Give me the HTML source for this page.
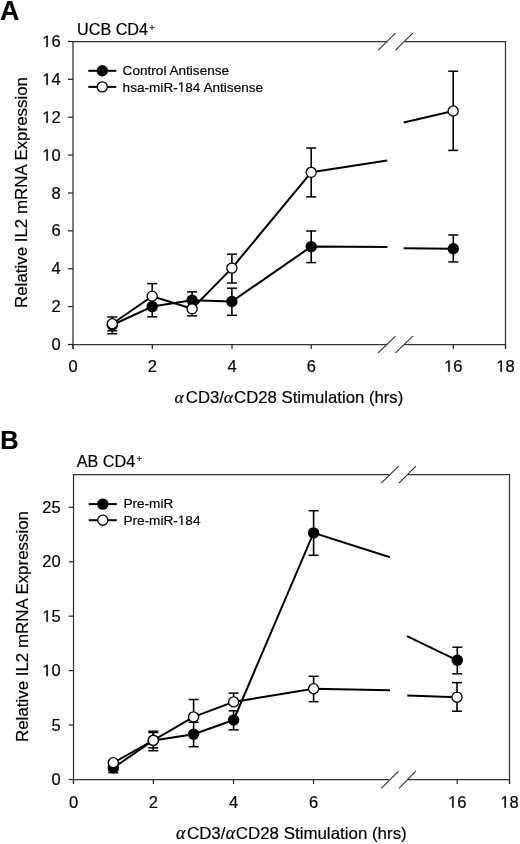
<!DOCTYPE html><html><head><meta charset="utf-8"><style>html,body{margin:0;padding:0;background:#fff}svg{display:block;will-change:transform}text{font-family:"Liberation Sans",sans-serif;fill:#000;stroke:#000;stroke-width:0.18px}.one{fill:transparent;stroke:none}</style></head><body>
<svg width="520" height="844" viewBox="0 0 520 844">
<rect width="520" height="844" fill="#fff"/>
<text x="0.1" y="19.7" font-size="26.8" text-anchor="start" font-weight="bold">A</text>
<text x="0.2" y="448.7" font-size="25.5" text-anchor="start" font-weight="bold">B</text>
<text x="77" y="35.3" font-size="16.2" text-anchor="start" >UCB CD4<tspan font-size="9.5" dx="1.3" dy="-4.3">+</tspan></text>
<text x="76.7" y="466.6" font-size="16.2" text-anchor="start" >AB CD4<tspan font-size="9.5" dx="1.3" dy="-4.3">+</tspan></text>
<text x="0" y="0" font-size="16.9" text-anchor="middle" transform="translate(27.4,192.5) rotate(-90)">Relative IL2 mRNA Expression</text>
<text x="0" y="0" font-size="16.9" text-anchor="middle" transform="translate(27.8,626.5) rotate(-90)">Relative IL2 mRNA Expression</text>
<text y="403.1" font-size="16.74"><tspan x="174.38" font-family="Liberation Serif" font-style="italic" font-size="17.6">α</tspan><tspan x="185.85">CD3/</tspan><tspan x="223.78" font-family="Liberation Serif" font-style="italic" font-size="17.6">α</tspan><tspan x="234.05">CD28 Stimulation (hrs)</tspan></text>
<text y="838.6" font-size="16.92"><tspan x="175.97" font-family="Liberation Serif" font-style="italic" font-size="17.9">α</tspan><tspan x="186.94">CD3/</tspan><tspan x="225.67" font-family="Liberation Serif" font-style="italic" font-size="17.9">α</tspan><tspan x="235.74">CD28 Stimulation (hrs)</tspan></text>
<line x1="73" y1="40.9" x2="73" y2="349.0" stroke="#444" stroke-width="1.4"/>
<line x1="72.4" y1="344.5" x2="386.5" y2="344.5" stroke="#333" stroke-width="1.25"/>
<line x1="404.5" y1="344.5" x2="506.1" y2="344.5" stroke="#333" stroke-width="1.25"/>
<line x1="72.4" y1="41.5" x2="386.5" y2="41.5" stroke="#333" stroke-width="1.25"/>
<line x1="404.5" y1="41.5" x2="506.1" y2="41.5" stroke="#333" stroke-width="1.25"/>
<line x1="505.5" y1="40.9" x2="505.5" y2="349.0" stroke="#333" stroke-width="1.2"/>
<line x1="378.2" y1="352.9" x2="395.5" y2="336.1" stroke="#333" stroke-width="1.15"/>
<line x1="395.5" y1="352.9" x2="412.8" y2="336.1" stroke="#333" stroke-width="1.15"/>
<line x1="378.2" y1="50.2" x2="395.5" y2="33.2" stroke="#333" stroke-width="1.15"/>
<line x1="395.5" y1="50.2" x2="412.8" y2="33.2" stroke="#333" stroke-width="1.15"/>
<line x1="68" y1="344.5" x2="73" y2="344.5" stroke="#222" stroke-width="1.2"/>
<text x="60.6" y="350.1" font-size="16.5" text-anchor="end" >0</text>
<line x1="68" y1="306.62" x2="73" y2="306.62" stroke="#222" stroke-width="1.2"/>
<text x="60.6" y="312.22" font-size="16.5" text-anchor="end" >2</text>
<line x1="68" y1="268.74" x2="73" y2="268.74" stroke="#222" stroke-width="1.2"/>
<text x="60.6" y="274.34000000000003" font-size="16.5" text-anchor="end" >4</text>
<line x1="68" y1="230.85999999999999" x2="73" y2="230.85999999999999" stroke="#222" stroke-width="1.2"/>
<text x="60.6" y="236.45999999999998" font-size="16.5" text-anchor="end" >6</text>
<line x1="68" y1="192.98" x2="73" y2="192.98" stroke="#222" stroke-width="1.2"/>
<text x="60.6" y="198.57999999999998" font-size="16.5" text-anchor="end" >8</text>
<line x1="68" y1="155.1" x2="73" y2="155.1" stroke="#222" stroke-width="1.2"/>
<text id="o0" x="60.6" y="160.7" font-size="16.5" text-anchor="end" ><tspan class="one">1</tspan>0</text>
<line x1="68" y1="117.21999999999997" x2="73" y2="117.21999999999997" stroke="#222" stroke-width="1.2"/>
<text id="o1" x="60.6" y="122.81999999999996" font-size="16.5" text-anchor="end" ><tspan class="one">1</tspan>2</text>
<line x1="68" y1="79.33999999999997" x2="73" y2="79.33999999999997" stroke="#222" stroke-width="1.2"/>
<text id="o2" x="60.6" y="84.93999999999997" font-size="16.5" text-anchor="end" ><tspan class="one">1</tspan>4</text>
<line x1="68" y1="41.45999999999998" x2="73" y2="41.45999999999998" stroke="#222" stroke-width="1.2"/>
<text id="o3" x="60.6" y="47.05999999999998" font-size="16.5" text-anchor="end" ><tspan class="one">1</tspan>6</text>
<line x1="73" y1="344.5" x2="73" y2="349.0" stroke="#222" stroke-width="1.2"/>
<text x="73" y="371.8" font-size="16.5" text-anchor="middle" >0</text>
<line x1="152.3" y1="344.5" x2="152.3" y2="349.0" stroke="#222" stroke-width="1.2"/>
<text x="152.3" y="371.8" font-size="16.5" text-anchor="middle" >2</text>
<line x1="232" y1="344.5" x2="232" y2="349.0" stroke="#222" stroke-width="1.2"/>
<text x="232" y="371.8" font-size="16.5" text-anchor="middle" >4</text>
<line x1="311.3" y1="344.5" x2="311.3" y2="349.0" stroke="#222" stroke-width="1.2"/>
<text x="311.3" y="371.8" font-size="16.5" text-anchor="middle" >6</text>
<line x1="453.3" y1="344.5" x2="453.3" y2="349.0" stroke="#222" stroke-width="1.2"/>
<text id="o4" x="453.3" y="371.8" font-size="16.5" text-anchor="middle" ><tspan class="one">1</tspan>6</text>
<line x1="505.5" y1="344.5" x2="505.5" y2="349.0" stroke="#222" stroke-width="1.2"/>
<text id="o5" x="505.5" y="371.8" font-size="16.5" text-anchor="middle" ><tspan class="one">1</tspan>8</text>
<polyline points="112.3,325.0 152.2,306.6 192.1,300.2 231.9,301.5 311.2,246.6 387.3,246.9" fill="none" stroke="#000" stroke-width="2.0" stroke-linejoin="round"/>
<polyline points="403.7,248.3 453.3,248.8" fill="none" stroke="#000" stroke-width="2.0" stroke-linejoin="round"/>
<polyline points="112.3,323.75 152.2,296.2 192.1,308.8 231.9,268.1 311.2,172.3 387.3,160.6" fill="none" stroke="#000" stroke-width="2.0" stroke-linejoin="round"/>
<polyline points="403.7,122.5 453.2,111" fill="none" stroke="#000" stroke-width="2.0" stroke-linejoin="round"/>
<line x1="112.3" y1="325.0" x2="112.3" y2="333.75" stroke="#000" stroke-width="1.6"/>
<line x1="107.3" y1="333.75" x2="117.3" y2="333.75" stroke="#000" stroke-width="1.5"/>
<line x1="152.2" y1="306.6" x2="152.2" y2="316.8" stroke="#000" stroke-width="1.6"/>
<line x1="147.2" y1="316.8" x2="157.2" y2="316.8" stroke="#000" stroke-width="1.5"/>
<line x1="192.1" y1="300.2" x2="192.1" y2="291.9" stroke="#000" stroke-width="1.6"/>
<line x1="187.1" y1="291.9" x2="197.1" y2="291.9" stroke="#000" stroke-width="1.5"/>
<line x1="231.9" y1="301.5" x2="231.9" y2="288.2" stroke="#000" stroke-width="1.6"/>
<line x1="231.9" y1="301.5" x2="231.9" y2="315.3" stroke="#000" stroke-width="1.6"/>
<line x1="226.9" y1="288.2" x2="236.9" y2="288.2" stroke="#000" stroke-width="1.5"/>
<line x1="226.9" y1="315.3" x2="236.9" y2="315.3" stroke="#000" stroke-width="1.5"/>
<line x1="311.2" y1="246.6" x2="311.2" y2="231" stroke="#000" stroke-width="1.6"/>
<line x1="311.2" y1="246.6" x2="311.2" y2="262.6" stroke="#000" stroke-width="1.6"/>
<line x1="306.2" y1="231" x2="316.2" y2="231" stroke="#000" stroke-width="1.5"/>
<line x1="306.2" y1="262.6" x2="316.2" y2="262.6" stroke="#000" stroke-width="1.5"/>
<line x1="453.3" y1="248.8" x2="453.3" y2="235" stroke="#000" stroke-width="1.6"/>
<line x1="453.3" y1="248.8" x2="453.3" y2="261.9" stroke="#000" stroke-width="1.6"/>
<line x1="448.3" y1="235" x2="458.3" y2="235" stroke="#000" stroke-width="1.5"/>
<line x1="448.3" y1="261.9" x2="458.3" y2="261.9" stroke="#000" stroke-width="1.5"/>
<circle cx="112.3" cy="325.0" r="5.7" fill="#000"/>
<circle cx="152.2" cy="306.6" r="5.7" fill="#000"/>
<circle cx="192.1" cy="300.2" r="5.7" fill="#000"/>
<circle cx="231.9" cy="301.5" r="5.7" fill="#000"/>
<circle cx="311.2" cy="246.6" r="5.7" fill="#000"/>
<circle cx="453.3" cy="248.8" r="5.7" fill="#000"/>
<line x1="112.3" y1="323.75" x2="112.3" y2="317" stroke="#000" stroke-width="1.6"/>
<line x1="112.3" y1="323.75" x2="112.3" y2="330.75" stroke="#000" stroke-width="1.6"/>
<line x1="107.3" y1="317" x2="117.3" y2="317" stroke="#000" stroke-width="1.5"/>
<line x1="107.3" y1="330.75" x2="117.3" y2="330.75" stroke="#000" stroke-width="1.5"/>
<line x1="152.2" y1="296.2" x2="152.2" y2="283.6" stroke="#000" stroke-width="1.6"/>
<line x1="147.2" y1="283.6" x2="157.2" y2="283.6" stroke="#000" stroke-width="1.5"/>
<line x1="192.1" y1="308.8" x2="192.1" y2="315.9" stroke="#000" stroke-width="1.6"/>
<line x1="187.1" y1="315.9" x2="197.1" y2="315.9" stroke="#000" stroke-width="1.5"/>
<line x1="231.9" y1="268.1" x2="231.9" y2="254.2" stroke="#000" stroke-width="1.6"/>
<line x1="231.9" y1="268.1" x2="231.9" y2="283" stroke="#000" stroke-width="1.6"/>
<line x1="226.9" y1="254.2" x2="236.9" y2="254.2" stroke="#000" stroke-width="1.5"/>
<line x1="226.9" y1="283" x2="236.9" y2="283" stroke="#000" stroke-width="1.5"/>
<line x1="311.2" y1="172.3" x2="311.2" y2="148" stroke="#000" stroke-width="1.6"/>
<line x1="311.2" y1="172.3" x2="311.2" y2="196.9" stroke="#000" stroke-width="1.6"/>
<line x1="306.2" y1="148" x2="316.2" y2="148" stroke="#000" stroke-width="1.5"/>
<line x1="306.2" y1="196.9" x2="316.2" y2="196.9" stroke="#000" stroke-width="1.5"/>
<line x1="453.2" y1="111" x2="453.2" y2="71.2" stroke="#000" stroke-width="1.6"/>
<line x1="453.2" y1="111" x2="453.2" y2="150.4" stroke="#000" stroke-width="1.6"/>
<line x1="448.2" y1="71.2" x2="458.2" y2="71.2" stroke="#000" stroke-width="1.5"/>
<line x1="448.2" y1="150.4" x2="458.2" y2="150.4" stroke="#000" stroke-width="1.5"/>
<circle cx="112.3" cy="323.75" r="5.05" fill="#fff" stroke="#000" stroke-width="1.3"/>
<circle cx="152.2" cy="296.2" r="5.05" fill="#fff" stroke="#000" stroke-width="1.3"/>
<circle cx="192.1" cy="308.8" r="5.05" fill="#fff" stroke="#000" stroke-width="1.3"/>
<circle cx="231.9" cy="268.1" r="5.05" fill="#fff" stroke="#000" stroke-width="1.3"/>
<circle cx="311.2" cy="172.3" r="5.05" fill="#fff" stroke="#000" stroke-width="1.3"/>
<circle cx="453.2" cy="111" r="5.05" fill="#fff" stroke="#000" stroke-width="1.3"/>
<line x1="88.3" y1="70.8" x2="116.3" y2="70.8" stroke="#000" stroke-width="2.0"/>
<circle cx="102.3" cy="70.8" r="5.7" fill="#000"/>
<text x="122.6" y="74.8" font-size="13.6" text-anchor="start" >Control Antisense</text>
<line x1="88.3" y1="86.9" x2="116.3" y2="86.9" stroke="#000" stroke-width="2.0"/>
<circle cx="102.3" cy="86.9" r="5.05" fill="#fff" stroke="#000" stroke-width="1.3"/>
<text id="o6" x="122.6" y="91.7" font-size="13.6" text-anchor="start" >hsa-miR-<tspan class="one">1</tspan>84 Antisense</text>
<line x1="73.5" y1="473.9" x2="73.5" y2="784.0" stroke="#2a2a2a" stroke-width="1.15"/>
<line x1="72.9" y1="779.5" x2="389" y2="779.5" stroke="#333" stroke-width="1.25"/>
<line x1="408" y1="779.5" x2="510.1" y2="779.5" stroke="#333" stroke-width="1.25"/>
<line x1="72.9" y1="474.5" x2="389" y2="474.5" stroke="#333" stroke-width="1.25"/>
<line x1="408" y1="474.5" x2="510.1" y2="474.5" stroke="#333" stroke-width="1.25"/>
<line x1="509.5" y1="473.9" x2="509.5" y2="784.0" stroke="#333" stroke-width="1.2"/>
<line x1="381.25" y1="788.4" x2="398.6" y2="771.1" stroke="#333" stroke-width="1.15"/>
<line x1="399" y1="788.4" x2="415.9" y2="771.1" stroke="#333" stroke-width="1.15"/>
<line x1="381.25" y1="483.1" x2="398.6" y2="466.1" stroke="#333" stroke-width="1.15"/>
<line x1="399" y1="483.1" x2="415.9" y2="466.1" stroke="#333" stroke-width="1.15"/>
<line x1="68.7" y1="779.5" x2="73.5" y2="779.5" stroke="#222" stroke-width="1.2"/>
<text x="60.6" y="785.1" font-size="16.5" text-anchor="end" >0</text>
<line x1="68.7" y1="725.05" x2="73.5" y2="725.05" stroke="#222" stroke-width="1.2"/>
<text x="60.6" y="730.65" font-size="16.5" text-anchor="end" >5</text>
<line x1="68.7" y1="670.6" x2="73.5" y2="670.6" stroke="#222" stroke-width="1.2"/>
<text id="o7" x="60.6" y="676.2" font-size="16.5" text-anchor="end" ><tspan class="one">1</tspan>0</text>
<line x1="68.7" y1="616.15" x2="73.5" y2="616.15" stroke="#222" stroke-width="1.2"/>
<text id="o8" x="60.6" y="621.75" font-size="16.5" text-anchor="end" ><tspan class="one">1</tspan>5</text>
<line x1="68.7" y1="561.7" x2="73.5" y2="561.7" stroke="#222" stroke-width="1.2"/>
<text x="60.6" y="567.3000000000001" font-size="16.5" text-anchor="end" >20</text>
<line x1="68.7" y1="507.25" x2="73.5" y2="507.25" stroke="#222" stroke-width="1.2"/>
<text x="60.6" y="512.85" font-size="16.5" text-anchor="end" >25</text>
<line x1="73.5" y1="779.5" x2="73.5" y2="784.0" stroke="#222" stroke-width="1.2"/>
<text x="73.5" y="807.7" font-size="16.5" text-anchor="middle" >0</text>
<line x1="153.4" y1="779.5" x2="153.4" y2="784.0" stroke="#222" stroke-width="1.2"/>
<text x="153.4" y="807.7" font-size="16.5" text-anchor="middle" >2</text>
<line x1="233.5" y1="779.5" x2="233.5" y2="784.0" stroke="#222" stroke-width="1.2"/>
<text x="233.5" y="807.7" font-size="16.5" text-anchor="middle" >4</text>
<line x1="313.5" y1="779.5" x2="313.5" y2="784.0" stroke="#222" stroke-width="1.2"/>
<text x="313.5" y="807.7" font-size="16.5" text-anchor="middle" >6</text>
<line x1="457.2" y1="779.5" x2="457.2" y2="784.0" stroke="#222" stroke-width="1.2"/>
<text id="o9" x="457.2" y="807.7" font-size="16.5" text-anchor="middle" ><tspan class="one">1</tspan>6</text>
<line x1="509.5" y1="779.5" x2="509.5" y2="784.0" stroke="#222" stroke-width="1.2"/>
<text id="o10" x="509.5" y="807.7" font-size="16.5" text-anchor="middle" ><tspan class="one">1</tspan>8</text>
<polyline points="113.3,767.8 153.3,740.5 193.6,734.2 233.6,720 313.6,532.9 390,557.3" fill="none" stroke="#000" stroke-width="2.0" stroke-linejoin="round"/>
<polyline points="407,636.2 457.3,660.3" fill="none" stroke="#000" stroke-width="2.0" stroke-linejoin="round"/>
<polyline points="113.3,762.75 153.3,740.3 193.6,716.9 233.6,701.9 313.6,688.75 390,690.2" fill="none" stroke="#000" stroke-width="2.0" stroke-linejoin="round"/>
<polyline points="407.3,695.6 457,697.2" fill="none" stroke="#000" stroke-width="2.0" stroke-linejoin="round"/>
<line x1="113.3" y1="767.8" x2="113.3" y2="772.7" stroke="#000" stroke-width="1.6"/>
<line x1="108.3" y1="772.7" x2="118.3" y2="772.7" stroke="#000" stroke-width="1.5"/>
<line x1="153.3" y1="740.5" x2="153.3" y2="732.5" stroke="#000" stroke-width="1.6"/>
<line x1="153.3" y1="740.5" x2="153.3" y2="750.7" stroke="#000" stroke-width="1.6"/>
<line x1="148.3" y1="732.5" x2="158.3" y2="732.5" stroke="#000" stroke-width="1.5"/>
<line x1="148.3" y1="750.7" x2="158.3" y2="750.7" stroke="#000" stroke-width="1.5"/>
<line x1="193.6" y1="734.2" x2="193.6" y2="722.3" stroke="#000" stroke-width="1.6"/>
<line x1="193.6" y1="734.2" x2="193.6" y2="746.7" stroke="#000" stroke-width="1.6"/>
<line x1="188.6" y1="722.3" x2="198.6" y2="722.3" stroke="#000" stroke-width="1.5"/>
<line x1="188.6" y1="746.7" x2="198.6" y2="746.7" stroke="#000" stroke-width="1.5"/>
<line x1="233.6" y1="720" x2="233.6" y2="710.8" stroke="#000" stroke-width="1.6"/>
<line x1="233.6" y1="720" x2="233.6" y2="729.8" stroke="#000" stroke-width="1.6"/>
<line x1="228.6" y1="710.8" x2="238.6" y2="710.8" stroke="#000" stroke-width="1.5"/>
<line x1="228.6" y1="729.8" x2="238.6" y2="729.8" stroke="#000" stroke-width="1.5"/>
<line x1="313.6" y1="532.9" x2="313.6" y2="510.7" stroke="#000" stroke-width="1.6"/>
<line x1="313.6" y1="532.9" x2="313.6" y2="555.3" stroke="#000" stroke-width="1.6"/>
<line x1="308.6" y1="510.7" x2="318.6" y2="510.7" stroke="#000" stroke-width="1.5"/>
<line x1="308.6" y1="555.3" x2="318.6" y2="555.3" stroke="#000" stroke-width="1.5"/>
<line x1="457.3" y1="660.3" x2="457.3" y2="647.2" stroke="#000" stroke-width="1.6"/>
<line x1="457.3" y1="660.3" x2="457.3" y2="673.8" stroke="#000" stroke-width="1.6"/>
<line x1="452.3" y1="647.2" x2="462.3" y2="647.2" stroke="#000" stroke-width="1.5"/>
<line x1="452.3" y1="673.8" x2="462.3" y2="673.8" stroke="#000" stroke-width="1.5"/>
<circle cx="113.3" cy="767.8" r="5.7" fill="#000"/>
<circle cx="153.3" cy="740.5" r="5.7" fill="#000"/>
<circle cx="193.6" cy="734.2" r="5.7" fill="#000"/>
<circle cx="233.6" cy="720" r="5.7" fill="#000"/>
<circle cx="313.6" cy="532.9" r="5.7" fill="#000"/>
<circle cx="457.3" cy="660.3" r="5.7" fill="#000"/>
<line x1="113.3" y1="762.75" x2="113.3" y2="770.5" stroke="#000" stroke-width="1.6"/>
<line x1="108.3" y1="770.5" x2="118.3" y2="770.5" stroke="#000" stroke-width="1.5"/>
<line x1="153.3" y1="740.3" x2="153.3" y2="731.2" stroke="#000" stroke-width="1.6"/>
<line x1="153.3" y1="740.3" x2="153.3" y2="747.9" stroke="#000" stroke-width="1.6"/>
<line x1="148.3" y1="731.2" x2="158.3" y2="731.2" stroke="#000" stroke-width="1.5"/>
<line x1="148.3" y1="747.9" x2="158.3" y2="747.9" stroke="#000" stroke-width="1.5"/>
<line x1="193.6" y1="716.9" x2="193.6" y2="699.5" stroke="#000" stroke-width="1.6"/>
<line x1="188.6" y1="699.5" x2="198.6" y2="699.5" stroke="#000" stroke-width="1.5"/>
<line x1="233.6" y1="701.9" x2="233.6" y2="693.1" stroke="#000" stroke-width="1.6"/>
<line x1="228.6" y1="693.1" x2="238.6" y2="693.1" stroke="#000" stroke-width="1.5"/>
<line x1="313.6" y1="688.75" x2="313.6" y2="676.3" stroke="#000" stroke-width="1.6"/>
<line x1="313.6" y1="688.75" x2="313.6" y2="701.7" stroke="#000" stroke-width="1.6"/>
<line x1="308.6" y1="676.3" x2="318.6" y2="676.3" stroke="#000" stroke-width="1.5"/>
<line x1="308.6" y1="701.7" x2="318.6" y2="701.7" stroke="#000" stroke-width="1.5"/>
<line x1="457" y1="697.2" x2="457" y2="682.6" stroke="#000" stroke-width="1.6"/>
<line x1="457" y1="697.2" x2="457" y2="711.2" stroke="#000" stroke-width="1.6"/>
<line x1="452.0" y1="682.6" x2="462.0" y2="682.6" stroke="#000" stroke-width="1.5"/>
<line x1="452.0" y1="711.2" x2="462.0" y2="711.2" stroke="#000" stroke-width="1.5"/>
<circle cx="113.3" cy="762.75" r="5.05" fill="#fff" stroke="#000" stroke-width="1.3"/>
<circle cx="153.3" cy="740.3" r="5.05" fill="#fff" stroke="#000" stroke-width="1.3"/>
<circle cx="193.6" cy="716.9" r="5.05" fill="#fff" stroke="#000" stroke-width="1.3"/>
<circle cx="233.6" cy="701.9" r="5.05" fill="#fff" stroke="#000" stroke-width="1.3"/>
<circle cx="313.6" cy="688.75" r="5.05" fill="#fff" stroke="#000" stroke-width="1.3"/>
<circle cx="457" cy="697.2" r="5.05" fill="#fff" stroke="#000" stroke-width="1.3"/>
<line x1="88.8" y1="504.1" x2="116.8" y2="504.1" stroke="#000" stroke-width="2.0"/>
<circle cx="102.8" cy="504.1" r="5.7" fill="#000"/>
<text x="123.4" y="508.4" font-size="13.6" text-anchor="start" >Pre-miR</text>
<line x1="88.8" y1="520.2" x2="116.8" y2="520.2" stroke="#000" stroke-width="2.0"/>
<circle cx="102.8" cy="520.2" r="5.05" fill="#fff" stroke="#000" stroke-width="1.3"/>
<text id="o11" x="123.4" y="525.0" font-size="13.6" text-anchor="start" >Pre-miR-<tspan class="one">1</tspan>84</text>
<path d="M515 0V1237L197 1010V1180L530 1409H696V0Z" transform="translate(42.225,160.700) scale(0.008057,-0.008057)" fill="#000" stroke="#000" stroke-width="22.3"/>
<path d="M515 0V1237L197 1010V1180L530 1409H696V0Z" transform="translate(42.225,122.820) scale(0.008057,-0.008057)" fill="#000" stroke="#000" stroke-width="22.3"/>
<path d="M515 0V1237L197 1010V1180L530 1409H696V0Z" transform="translate(42.225,84.940) scale(0.008057,-0.008057)" fill="#000" stroke="#000" stroke-width="22.3"/>
<path d="M515 0V1237L197 1010V1180L530 1409H696V0Z" transform="translate(42.225,47.060) scale(0.008057,-0.008057)" fill="#000" stroke="#000" stroke-width="22.3"/>
<path d="M515 0V1237L197 1010V1180L530 1409H696V0Z" transform="translate(444.112,371.800) scale(0.008057,-0.008057)" fill="#000" stroke="#000" stroke-width="22.3"/>
<path d="M515 0V1237L197 1010V1180L530 1409H696V0Z" transform="translate(496.312,371.800) scale(0.008057,-0.008057)" fill="#000" stroke="#000" stroke-width="22.3"/>
<path d="M515 0V1237L197 1010V1180L530 1409H696V0Z" transform="translate(177.741,91.700) scale(0.006641,-0.006641)" fill="#000" stroke="#000" stroke-width="27.1"/>
<path d="M515 0V1237L197 1010V1180L530 1409H696V0Z" transform="translate(42.225,676.200) scale(0.008057,-0.008057)" fill="#000" stroke="#000" stroke-width="22.3"/>
<path d="M515 0V1237L197 1010V1180L530 1409H696V0Z" transform="translate(42.225,621.750) scale(0.008057,-0.008057)" fill="#000" stroke="#000" stroke-width="22.3"/>
<path d="M515 0V1237L197 1010V1180L530 1409H696V0Z" transform="translate(448.013,807.700) scale(0.008057,-0.008057)" fill="#000" stroke="#000" stroke-width="22.3"/>
<path d="M515 0V1237L197 1010V1180L530 1409H696V0Z" transform="translate(500.312,807.700) scale(0.008057,-0.008057)" fill="#000" stroke="#000" stroke-width="22.3"/>
<path d="M515 0V1237L197 1010V1180L530 1409H696V0Z" transform="translate(177.775,525.000) scale(0.006641,-0.006641)" fill="#000" stroke="#000" stroke-width="27.1"/>
</svg></body></html>
